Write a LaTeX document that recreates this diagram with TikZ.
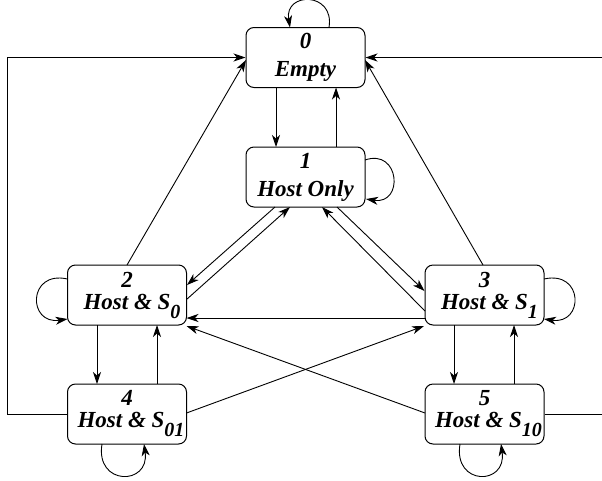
\documentclass[tikz,border=0pt]{standalone}
\usepackage{fontspec}
\setmainfont{Liberation Serif}
\usetikzlibrary{arrows.meta,calc}
% lowered subscript; the optional width is how much of it counts when centring
\newcommand\subsc[2][0pt]{\makebox[#1][l]{\raisebox{-9pt}{\fontsize{20}{20}\selectfont #2}}}

\begin{document}
\begin{tikzpicture}[x=1pt,y=-1pt,
  state/.style={draw, line width=1pt, rounded corners=8pt,
    minimum width=119pt, minimum height=60pt, inner sep=0pt,
    align=center, font=\fontsize{23}{22}\selectfont\bfseries\itshape},
  link/.style={line width=0.9pt, -{Stealth[length=12pt,width=8pt,inset=3.5pt]}},
  ]
\useasboundingbox (0,0) rectangle (602,480);

% states
\node[state] (s0) at (305.5,57.5) {0\\[6pt]Empty};
\node[state] (s1) at (305.5,177)  {1\\[6pt]Host Only};
\node[state] (s2) at (127,295)    {2\\Host \& S\subsc{0}};
\node[state] (s3) at (484.5,295)  {3\\Host \& S\subsc{1}};
\node[state] (s4) at (127,414)    {4\\Host \& S\subsc[12pt]{01}};
\node[state] (s5) at (484.5,414)  {5\\Host \& S\subsc[12pt]{10}};

% between 0 and 1
\draw[link] ($(s0.center)+(-29.5,30)$) -- ($(s1.center)+(-29.5,-30)$);
\draw[link] ($(s1.center)+(30.5,-30)$) -- ($(s0.center)+(30.5,30)$);

% long returns to 0 round the outside
\draw[link] (s4.west) -- ++(-60,0) |- (s0.west);
\draw[link] (s5.east) -- ++(70,0) |- (s0.east);

% diagonals up to 0
\draw[link] ($(s2.center)+(0,-30)$) -- ($(s0.center)+(-59.5,2.5)$);
\draw[link] ($(s3.center)+(-1.5,-30)$) -- ($(s0.center)+(59.5,2.5)$);

% between 1 and 2 / 1 and 3
\draw[link] ($(s1.center)+(-30.5,30)$) -- ($(s2.center)+(60,-10)$);
\draw[link] ($(s2.center)+(59.5,4.5)$) -- ($(s1.center)+(-15.5,30)$);
\draw[link] ($(s3.center)+(-59.5,16)$) -- ($(s1.center)+(16.5,30)$);
\draw[link] ($(s1.center)+(31.5,30)$) -- ($(s3.center)+(-60,-4)$);

% middle band
\draw[link] ($(s3.center)+(-59.5,23)$) -- ($(s2.center)+(59.5,23)$);
\draw[link] ($(s5.center)+(-59.5,-1)$) -- ($(s2.center)+(59.5,31)$);
\draw[link] ($(s4.center)+(59.5,-1)$) -- ($(s3.center)+(-60.5,31)$);

% verticals between the lower rows
\draw[link] ($(s2.center)+(-30,30)$) -- ($(s4.center)+(-30,-30)$);
\draw[link] ($(s4.center)+(30,-30)$) -- ($(s2.center)+(30,30)$);
\draw[link] ($(s3.center)+(-30.5,30)$) -- ($(s5.center)+(-30.5,-30)$);
\draw[link] ($(s5.center)+(29.5,-30)$) -- ($(s3.center)+(29.5,30)$);

% self loops
\draw[link] ($(s0.center)+(23.5,-30)$) .. controls +(6,-36) and +(-6,-36) .. ($(s0.center)+(-15.5,-30)$);
\draw[link] ($(s1.center)+(59.5,-17)$) .. controls +(35,-12) and +(38,6) .. ($(s1.center)+(60.5,22)$);
\draw[link] ($(s2.center)+(-59.5,-16)$) .. controls +(-40,-9) and +(-40,6) .. ($(s2.center)+(-59.5,24)$);
\draw[link] ($(s3.center)+(59.5,-16)$) .. controls +(40,-9) and +(40,6) .. ($(s3.center)+(59.5,24)$);
\draw[link] ($(s4.center)+(-25,30)$) .. controls +(-7,42) and +(6,42) .. ($(s4.center)+(17,30)$);
\draw[link] ($(s5.center)+(-24.5,30)$) .. controls +(-7,42) and +(6,42) .. ($(s5.center)+(16.5,30)$);
\end{tikzpicture}
\end{document}
